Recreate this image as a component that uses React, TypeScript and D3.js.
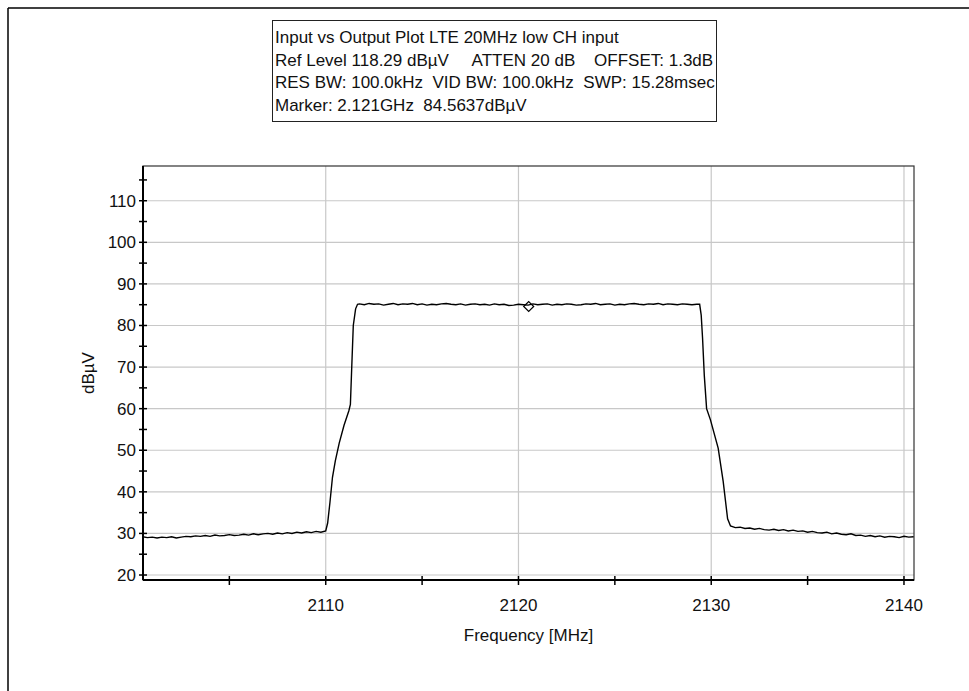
import React from 'react';
import * as d3 from 'd3';

// legend text lines
const infoLines = [
  'Input vs Output Plot LTE 20MHz low CH input',
  'Ref Level 118.29 dBµV     ATTEN 20 dB    OFFSET: 1.3dB',
  'RES BW: 100.0kHz  VID BW: 100.0kHz  SWP: 15.28msec',
  'Marker: 2.121GHz  84.5637dBµV',
];

const xTicks = [2110, 2120, 2130, 2140];
const xMinor = [2105, 2115, 2125, 2135];
const yTicks = [20, 30, 40, 50, 60, 70, 80, 90, 100, 110];
const yMinor = [25, 35, 45, 55, 65, 75, 85, 95, 105, 115];

// sweep segments (0.25 MHz grid)
const floorLeftStart = 2100.5;
const floorLeft = [
  29.2, 29.0, 29.1, 28.9, 29.1, 29.0, 29.2, 28.9, 29.1, 29.3, 29.2, 29.4,
  29.3, 29.5, 29.3, 29.6, 29.4, 29.5, 29.7, 29.5, 29.6, 29.8, 29.6, 29.9,
  29.7, 29.9, 30.0, 29.8, 30.1, 29.9, 30.2, 30.0, 30.3, 30.1, 30.4, 30.2,
  30.5, 30.3, 30.6,
];
const riseFreq = [2110.1, 2110.22, 2110.35, 2110.5, 2110.7, 2110.95, 2111.2, 2111.28, 2111.35, 2111.43, 2111.55, 2111.65];
const riseLevel = [32.5, 37.5, 43.5, 47.5, 51.7, 56, 59.5, 61, 70, 80, 84, 85.1];
const topStart = 2111.75;
const topLevel = [
  85.2, 85.0, 85.3, 85.1, 85.2, 84.9, 85.1, 85.3, 85.0, 85.2,
  85.1, 85.3, 85.0, 85.2, 84.9, 85.1, 85.0, 85.2, 85.3, 85.1,
  85.0, 85.2, 84.9, 85.1, 85.2, 85.0, 85.1, 84.9, 85.2, 85.0,
  85.1, 84.8, 84.9, 85.1, 85.0, 84.9, 85.2, 85.0, 85.1, 85.2,
  84.9, 85.1, 85.0, 85.2, 85.1, 84.9, 85.0, 85.2, 85.1, 85.3,
  85.0, 85.1, 85.2, 84.9, 85.1, 85.0, 85.2, 85.3, 85.1, 85.0,
  85.2, 85.1, 85.3, 85.0, 85.2, 85.1, 85.0, 85.2, 85.1, 85.0, 85.1,
];
const fallFreq = [2129.4, 2129.48, 2129.55, 2129.64, 2129.76, 2129.96, 2130.36, 2130.62, 2130.85, 2131.0];
const fallLevel = [85.1, 82.5, 77, 68, 60, 57.3, 50.5, 42.5, 33.5, 31.8];
const floorRightStart = 2131.25;
const floorRight = [
  31.4, 31.5, 31.2, 31.3, 31.0, 31.2, 30.9, 30.8, 31.0, 30.7, 30.9, 30.6,
  30.8, 30.5, 30.6, 30.3, 30.5, 30.2, 30.1, 30.3, 29.9, 30.1, 29.8, 29.7,
  29.9, 29.5, 29.6, 29.3, 29.5, 29.2, 29.4, 29.1, 29.3, 29.2, 29.0, 29.3,
  29.1, 29.2,
];
const marker = { freq: 2120.53, level: 84.56 };

const step = 0.25;
const trace: [number, number][] = [
  ...floorLeft.map((v, i) => [floorLeftStart + i * step, v] as [number, number]),
  ...riseFreq.map((f, i) => [f, riseLevel[i]] as [number, number]),
  ...topLevel.map((v, i) => [topStart + i * step, v] as [number, number]),
  ...fallFreq.map((f, i) => [f, fallLevel[i]] as [number, number]),
  ...floorRight.map((v, i) => [floorRightStart + i * step, v] as [number, number]),
];

export default function App() {
  const W = 969, H = 691;
  const L = 143, R = 914, T = 166, B = 580;
  const x = d3.scaleLinear().domain([2100.52, 2140.52]).range([L, R]);
  const y = d3.scaleLinear().domain([18.8, 118.35]).range([B, T]);
  const line = d3.line<[number, number]>().x(d => x(d[0])).y(d => y(d[1]));
  const font = '"Liberation Sans", Arial, sans-serif';
  const mx = x(marker.freq), my = y(marker.level);

  return (
    <svg width={W} height={H} style={{ position: 'absolute', left: 0, top: 0, background: '#fff' }}
      fontFamily={font}>
      <rect x={0} y={0} width={W} height={H} fill="#fff" />
      <line x1={8} y1={8} x2={W} y2={8} stroke="#000" strokeWidth={1.5} />
      <line x1={8} y1={8} x2={8} y2={H} stroke="#000" strokeWidth={1.5} />

      {/* info box */}
      <rect x={272.5} y={20.5} width={444} height={101} fill="#fff" stroke="#222" strokeWidth={1} />
      {infoLines.map((t, i) => (
        <text key={t} x={275} y={43 + i * 22.5} fontSize={17} fill="#111" style={{ whiteSpace: 'pre' }}>{t}</text>
      ))}

      {/* grid */}
      {yTicks.map(v => (
        <line key={'gy' + v} x1={L} x2={R} y1={y(v)} y2={y(v)} stroke="#c8c8c8" strokeWidth={1.2} />
      ))}
      {xTicks.map(v => (
        <line key={'gx' + v} x1={x(v)} x2={x(v)} y1={T} y2={B} stroke="#c8c8c8" strokeWidth={1.2} />
      ))}

      <rect x={L} y={T} width={R - L} height={B - T} fill="none" stroke="#333" strokeWidth={1.2} />
      <line x1={L} x2={L} y1={T} y2={B} stroke="#000" strokeWidth={2} />
      <line x1={L} x2={R} y1={B} y2={B} stroke="#000" strokeWidth={2} />

      {/* y ticks */}
      {[...yTicks, ...yMinor].map(v => (
        <line key={'ty' + v} x1={L - 4} x2={L + 4} y1={y(v)} y2={y(v)} stroke="#000" strokeWidth={1.5} />
      ))}
      {yTicks.map(v => (
        <text key={'ly' + v} x={136} y={y(v)} dy="0.35em" textAnchor="end" fontSize={17} fill="#111">{v}</text>
      ))}
      {/* x ticks */}
      {[...xTicks, ...xMinor].map(v => (
        <line key={'tx' + v} x1={x(v)} x2={x(v)} y1={B - 4} y2={B + 5} stroke="#000" strokeWidth={1.5} />
      ))}
      {xTicks.map(v => (
        <text key={'lx' + v} x={x(v)} y={611} textAnchor="middle" fontSize={17} fill="#111">{v}</text>
      ))}

      <text x={(L + R) / 2} y={641} textAnchor="middle" fontSize={17} fill="#111">Frequency [MHz]</text>
      <text transform={`translate(94,${(T + B) / 2}) rotate(-90)`} textAnchor="middle" fontSize={17} fill="#111">dBµV</text>

      {/* trace */}
      <path d={line(trace) || ''} fill="none" stroke="#000" strokeWidth={1.4} />
      <path d={`M${mx - 5},${my} L${mx},${my - 5} L${mx + 5},${my} L${mx},${my + 5} Z`}
        fill="none" stroke="#000" strokeWidth={1.2} />
    </svg>
  );
}
